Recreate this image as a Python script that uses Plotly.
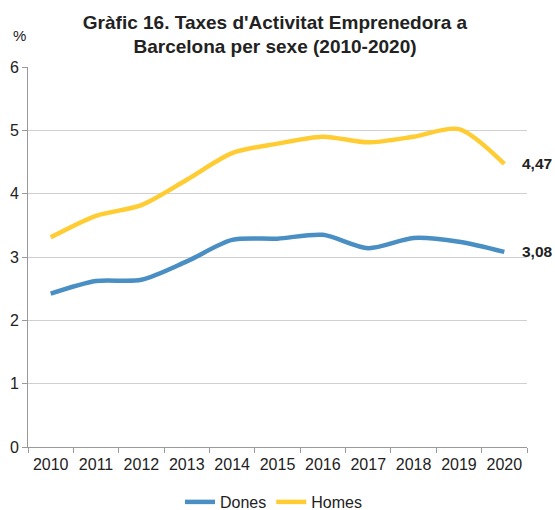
import plotly.graph_objects as go

years = ["2010", "2011", "2012", "2013", "2014", "2015", "2016", "2017", "2018", "2019", "2020"]
dones = [2.42, 2.62, 2.64, 2.93, 3.27, 3.29, 3.35, 3.14, 3.30, 3.24, 3.08]
homes = [3.31, 3.65, 3.82, 4.22, 4.64, 4.79, 4.90, 4.81, 4.90, 5.02, 4.47]
series_names = ["Dones", "Homes"]
colors = ["#4A8FC4", "#FFCC33"]

FONT = "Liberation Sans, Arial, sans-serif"
TXT = "#222222"

fig = go.Figure()
for name, vals, col in zip(series_names, [dones, homes], colors):
    fig.add_trace(go.Scatter(
        x=years, y=vals, name=name, mode="lines",
        line=dict(color=col, width=4.5, shape="spline", smoothing=0.8),
    ))
    fig.add_annotation(
        x=len(years) - 1, y=vals[-1], xref="x", yref="y",
        text="<b>" + f"{vals[-1]:.2f}".replace(".", ",") + "</b>",
        showarrow=False, xanchor="left", yanchor="middle", xshift=16,
        font=dict(family=FONT, size=15.5, color=TXT),
    )

fig.add_annotation(
    x=-0.018, y=1.084, xref="paper", yref="paper", text="%", showarrow=False,
    xanchor="center", yanchor="middle",
    font=dict(family=FONT, size=15, color=TXT),
)

fig.update_layout(
    width=555, height=510,
    margin=dict(l=28, r=28, t=67, b=63, autoexpand=False),
    paper_bgcolor="white", plot_bgcolor="white",
    font=dict(family=FONT, size=16, color=TXT),
    title=dict(
        text="<b>Gràfic 16. Taxes d'Activitat Emprenedora a<br>Barcelona per sexe (2010-2020)</b>",
        x=0.4955, xanchor="center", y=0.944, yanchor="top",
        font=dict(family=FONT, size=19, color=TXT),
    ),
    showlegend=True,
    legend=dict(
        orientation="h", x=0.492, xanchor="center", y=-0.1447, yanchor="middle",
        font=dict(family=FONT, size=16, color=TXT),
        traceorder="normal",
    ),
)
fig.update_xaxes(
    type="category", tickson="boundaries", ticks="outside", ticklen=5,
    tickcolor="#999999", showline=True, linecolor="#999999", linewidth=1,
    showgrid=False, range=[-0.5, 10.5], automargin=False, ticklabelstandoff=3,
    tickfont=dict(family=FONT, size=16, color=TXT),
)
fig.update_yaxes(
    range=[0, 6], dtick=1, ticks="outside", ticklen=5, tickcolor="#999999",
    showline=True, linecolor="#999999", linewidth=1, automargin=False,
    showgrid=True, gridcolor="#D0D0D0", gridwidth=1, zeroline=False,
    tickfont=dict(family=FONT, size=16, color=TXT),
)

# Remove the default page margin so the 555x510 figure fills the window exactly.
fig.write_html(
    "out.html",
    config={"displayModeBar": False},
    post_script="document.body.style.margin='0';document.body.style.overflow='hidden';",
)
